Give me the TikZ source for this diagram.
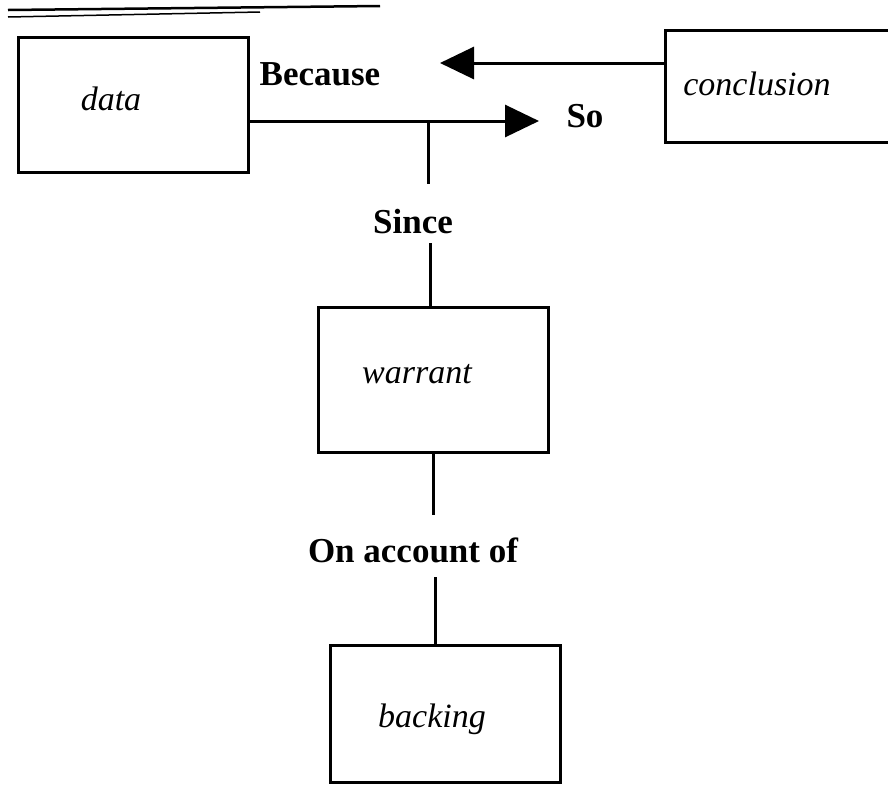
\documentclass[tikz,border=0pt]{standalone}
\usepackage{fontspec}
\setmainfont{Liberation Serif}
\usetikzlibrary{arrows.meta}
\begin{document}
\begin{tikzpicture}[x=1pt,y=-1pt,
  box/.style={draw, line width=3pt, inner sep=0pt},
  cue/.style={font=\fontsize{35}{40}\selectfont\bfseries, inner sep=0pt, anchor=base},
  term/.style={font=\fontsize{34}{40}\selectfont\itshape, inner sep=0pt, anchor=base},
  link/.style={line width=3pt},
  bighead/.style={-{Triangle[length=34pt,width=32pt]}}]
\useasboundingbox (0,0) rectangle (888,785);
\clip (0,0) rectangle (888,785);

% double rule along the top
\draw[line width=2.5pt] (8,10) -- (380,6);
\draw[line width=1.5pt] (8,17) -- (260,12);

% boxes
\node[box, minimum width=230pt, minimum height=135pt] (data)    at (133,104.5) {};
\node[box, minimum width=245pt, minimum height=112pt] (concl)   at (787.5,86)  {};
\node[box, minimum width=230pt, minimum height=145pt] (warrant) at (433,379.5) {};
\node[box, minimum width=230pt, minimum height=137pt] (backing) at (445,713.5) {};

% box texts
\node[term] (tdata)    at (111,110) {data};
\node[term] (tconcl)   at (757,95)  {conclusion};
\node[term] (twarrant) at (417,383) {warrant};
\node[term] (tbacking) at (432,727) {backing};

% connective words
\node[cue] (because) at (320,85)  {Because};
\node[cue] (so)      at (585,127) {So};
\node[cue] (since)   at (413,233) {Since};
\node[cue] (onacc)   at (413,562) {On account of};

% arrows between data and conclusion
\coordinate (bectip) at (440,63);
\coordinate (sotip)  at (539,121);
\draw[link,bighead] (concl.west |- bectip) -- (bectip);
\draw[link,bighead] (data.east |- sotip) -- (sotip);

% warrant and backing chain
\coordinate (j)  at (428,121);
\coordinate (s1) at (428,184);
\coordinate (s2) at (430,243);
\coordinate (o1) at (433,515);
\coordinate (o2) at (435,577);
\draw[link] (j) -- (s1);
\draw[link] (s2) -- (s2 |- warrant.north);
\draw[link] (warrant.south -| o1) -- (o1);
\draw[link] (o2) -- (o2 |- backing.north);
\end{tikzpicture}
\end{document}
